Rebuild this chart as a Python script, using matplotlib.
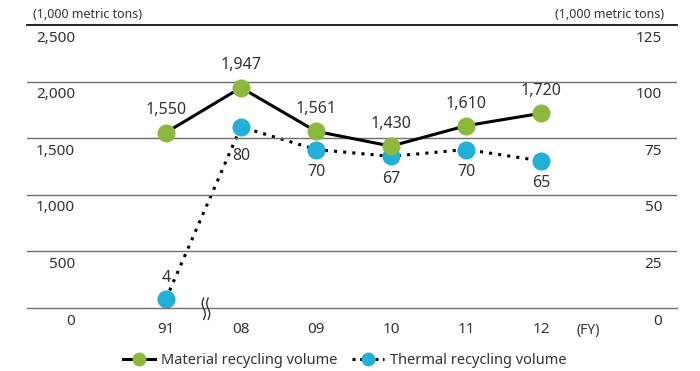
import numpy as np
import matplotlib
matplotlib.use("Agg")
import matplotlib.pyplot as plt
from matplotlib.lines import Line2D
import matplotlib.transforms as mtransforms

plt.rcParams['font.family'] = ['Noto Sans', 'DejaVu Sans']

years = ["91", "08", "09", "10", "11", "12"]
material = [1550, 1947, 1561, 1430, 1610, 1720]
thermal = [4, 80, 70, 67, 70, 65]
left_ticks = [0, 500, 1000, 1500, 2000, 2500]
right_ticks = [0, 25, 50, 75, 100, 125]

green = "#8cb83e"
blue = "#22b0d6"
txt = "#333333"

fig = plt.figure(figsize=(7, 3.71), dpi=100)
ax = fig.add_axes([27 / 700, 63 / 371, 650 / 700, 283 / 371])
ax2 = ax.twinx()

x = np.arange(len(years))
ax.set_xlim(-1.853, 6.813)
ax.set_ylim(0, 2500)
ax2.set_ylim(0, 125)

# horizontal rules, labels sit just under each line
for t in left_ticks[1:-1]:
    ax.axhline(t, color="#6e6e6e", lw=1.0, zorder=1)
for s in ["left", "right"]:
    ax.spines[s].set_visible(False)
    ax2.spines[s].set_visible(False)
ax2.spines["top"].set_visible(False)
ax2.spines["bottom"].set_visible(False)
ax.spines["top"].set_color("#111111")
ax.spines["top"].set_linewidth(1.3)
ax.spines["bottom"].set_color("#6e6e6e")
ax.spines["bottom"].set_linewidth(1.0)

ax.set_yticks([])
ax2.set_yticks([])
ax.set_xticks(x)
ax.set_xticklabels(years, fontsize=11, color=txt)
ax.tick_params(axis="x", length=0, pad=10)

tl = mtransforms.offset_copy(ax.get_yaxis_transform(), fig=fig, x=0, y=-4, units="points")
for t in left_ticks:
    ax.text(48 / 650, t, f"{t:,}", transform=tl, ha="right", va="top",
            fontsize=11, color=txt)
tr = mtransforms.offset_copy(ax2.get_yaxis_transform(), fig=fig, x=0, y=-4, units="points")
for t in right_ticks:
    ax2.text(635 / 650, t, f"{t}", transform=tr, ha="right", va="top",
             fontsize=11, color=txt)

fig.text(33 / 700, 357 / 371, "(1,000 metric tons)", fontsize=9, color=txt,
         ha="left", va="center")
fig.text(664 / 700, 357 / 371, "(1,000 metric tons)", fontsize=9, color=txt,
         ha="right", va="center")
ax.text(5.63, -22, "(FY)", ha="center", va="top", fontsize=10, color=txt,
        transform=mtransforms.offset_copy(ax.transData, fig=fig, x=0, y=-9, units="points"))

# series
ax.plot(x, material, color="black", lw=2.2, zorder=3)
ax.plot(x, material, "o", ms=13, color=green, mec="none", zorder=4)
ax2.plot(x, thermal, color="black", lw=2.2, ls=(0, (1, 2)), zorder=3)
ax2.plot(x, thermal, "o", ms=13, color=blue, mec="none", zorder=4)
ax.set_zorder(ax2.get_zorder() + 1)
ax.patch.set_visible(False)

for xi, v in zip(x, material):
    ax.annotate(f"{v:,}", (xi, v), xytext=(0, 16), textcoords="offset points",
                ha="center", va="center", fontsize=11.5, color=txt)
for xi, v in zip(x, thermal):
    dy = 15 if xi == 0 else (-21 if xi == 1 else -16)
    ax2.annotate(f"{v}", (xi, v), xytext=(0, dy), textcoords="offset points",
                 ha="center", va="center", fontsize=11.5, color=txt)

# axis break between 91 and 08
yy = np.linspace(-100, 88, 40)
for off in (-0.03, 0.03):
    ax.plot(0.533 + off + 0.02 * np.sin((yy + 100) / 188 * 2 * np.pi), yy,
            color="#333333", lw=1.0, clip_on=False, zorder=5)

handles = [
    Line2D([], [], color="black", lw=2.2, marker="o", ms=10, mfc=green, mec="none"),
    Line2D([], [], color="black", lw=2.2, ls=(0, (1, 1.5)), marker="o", ms=10,
           mfc=blue, mec="none"),
]
fig.legend(handles, ["Material recycling volume", "Thermal recycling volume"],
           loc="center", bbox_to_anchor=(345 / 700, 10 / 371), ncol=2, frameon=False,
           fontsize=10.5, handlelength=2.2, columnspacing=1.0, handletextpad=0.4,
           labelcolor=txt)

fig.savefig("out.png", dpi=100)
